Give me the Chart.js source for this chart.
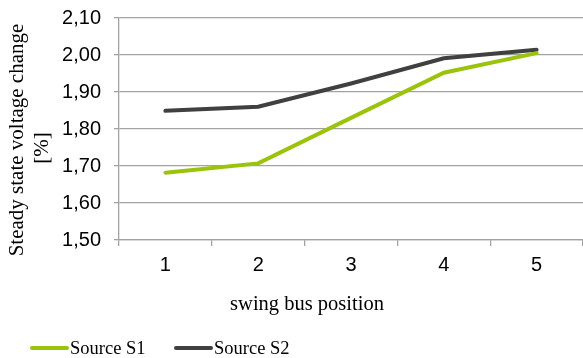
<!DOCTYPE html>
<html>
<head>
<meta charset="utf-8">
<script src="https://cdn.jsdelivr.net/npm/chart.js@4/dist/chart.umd.min.js"></script>
<style>
  html, body { margin: 0; padding: 0; background: #fff; }
  #wrap { width: 583px; height: 358px; }
</style>
</head>
<body>
<div id="wrap"><canvas id="c" width="583" height="358"></canvas></div>
<script>
// Swing bus positions and the steady state voltage change for each source
const categories = ['1', '2', '3', '4', '5'];
const sourceS1 = [1.682, 1.707, 1.830, 1.952, 2.005];
const sourceS2 = [1.849, 1.860, 1.923, 1.991, 2.014];
const yTicks = [1.50, 1.60, 1.70, 1.80, 1.90, 2.00, 2.10];

const seriesNames = ['Source S1', 'Source S2'];
const seriesColors = ['#9bc30c', '#404040'];
const xTitle = 'swing bus position';
const yTitle = ['Steady state voltage change', '[%]'];

const gridColor = '#a3a3a3';
const sans = '"Liberation Sans", Arial, sans-serif';
const serif = '"Liberation Serif", "Times New Roman", serif';

// Axis captions plus a legend of short thick strokes and series names
const captions = {
  id: 'captions',
  afterDraw(chart) {
    const ctx = chart.ctx;
    ctx.save();
    ctx.fillStyle = '#000';
    ctx.textBaseline = 'middle';
    ctx.textAlign = 'center';

    // vertical caption, two rotated lines
    ctx.font = '21px ' + serif;
    const lineX = [17, 42];
    const lineY = [140, 148];
    yTitle.forEach((t, i) => {
      ctx.save();
      ctx.translate(lineX[i], lineY[i]);
      ctx.rotate(-Math.PI / 2);
      ctx.fillText(t, 0, 0);
      ctx.restore();
    });

    ctx.font = '20.5px ' + serif;
    ctx.fillText(xTitle, 307, 305);

    const y = 348;
    const starts = [30, 174];
    ctx.font = '18.5px ' + serif;
    ctx.textAlign = 'left';
    chart.data.datasets.forEach((ds, i) => {
      const x = starts[i];
      ctx.strokeStyle = ds.borderColor;
      ctx.lineWidth = 4;
      ctx.lineCap = 'round';
      ctx.beginPath();
      ctx.moveTo(x + 2, y);
      ctx.lineTo(x + 37, y);
      ctx.stroke();
      ctx.fillText(ds.label, x + 40, y + 1);
    });
    ctx.restore();
  }
};

new Chart(document.getElementById('c'), {
  type: 'line',
  data: {
    labels: categories,
    datasets: [
      { label: seriesNames[0], data: sourceS1, borderColor: seriesColors[0], backgroundColor: seriesColors[0] },
      { label: seriesNames[1], data: sourceS2, borderColor: seriesColors[1], backgroundColor: seriesColors[1] }
    ]
  },
  options: {
    responsive: false,
    animation: false,
    devicePixelRatio: 1,
    layout: { padding: { top: 18, right: 0, bottom: 28, left: 0 } },
    elements: {
      line: { borderWidth: 4, tension: 0, borderCapStyle: 'round', borderJoinStyle: 'miter' },
      point: { radius: 0, hoverRadius: 0 }
    },
    plugins: {
      legend: { display: false },
      tooltip: { enabled: false }
    },
    scales: {
      x: {
        type: 'category',
        offset: true,
        afterFit(scale) { scale.height = 90; },
        grid: {
          offset: true,
          drawOnChartArea: false,
          drawTicks: true,
          tickLength: 6,
          color: gridColor,
          lineWidth: 1.3
        },
        border: { display: true, color: gridColor, width: 1.3 },
        ticks: {
          color: '#000',
          padding: 7,
          font: { family: sans, size: 20 },
          maxRotation: 0
        }
      },
      y: {
        min: 1.5,
        max: 2.1,
        afterBuildTicks(scale) { scale.ticks = yTicks.map(v => ({ value: v })); },
        afterFit(scale) {
          scale.width = 119;
          scale.paddingTop = 0;
          scale.paddingBottom = 0;
        },
        grid: {
          color: gridColor,
          lineWidth: 1.3,
          drawTicks: true,
          tickLength: 5
        },
        border: { display: true, color: gridColor, width: 1.3 },
        ticks: {
          color: '#000',
          padding: 13,
          font: { family: sans, size: 20 },
          callback: v => Number(v).toFixed(2).replace('.', ',')
        }
      }
    }
  },
  plugins: [captions]
});
</script>
</body>
</html>
